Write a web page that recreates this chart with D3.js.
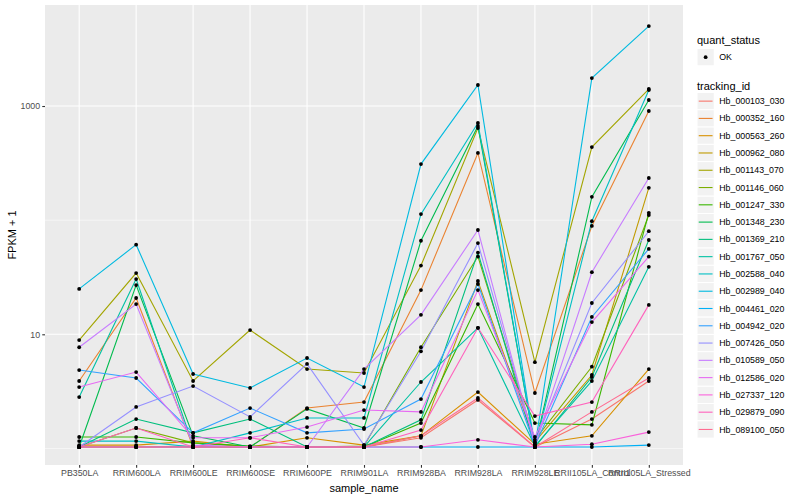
<!DOCTYPE html>
<html>
<head>
<meta charset="utf-8">
<script src="https://cdn.jsdelivr.net/npm/d3@7/dist/d3.min.js"></script>
<style>
body { margin: 0; background: #fff; }
svg text { font-family: "Liberation Sans", Arial, sans-serif; }
</style>
</head>
<body>
<svg id="chart" width="800" height="500"></svg>
<script>
// samples on the x axis
var samples = ["PB350LA", "RRIM600LA", "RRIM600LE", "RRIM600SE", "RRIM600PE", "RRIM901LA",
	"RRIM928BA", "RRIM928LA", "RRIM928LE", "RRII105LA_Control", "RRII105LA_Stressed"];

// FPKM + 1 per gene, one value per sample
var Hb_000103_030 = [1.03, 1.03, 1.05, 1.03, 1.03, 1.03, 1.24, 2.66, 1.03, 1.81, 3.90];
var Hb_000352_160 = [3.90, 20.8, 1.03, 1.03, 2.26, 2.55, 24.4, 388, 3.06, 89, 904];
var Hb_000563_260 = [1.07, 1.07, 1.16, 1.03, 1.24, 1.07, 1.29, 3.12, 1.09, 1.29, 4.96];
var Hb_000962_080 = [1.03, 1.03, 1.03, 1.03, 1.03, 1.03, 1.29, 29.3, 1.14, 4.40, 192];
var Hb_001143_070 = [8.9, 34.4, 3.90, 10.9, 4.96, 4.58, 40, 641, 5.7, 437, 1409];
var Hb_001146_060 = [1.03, 1.51, 1.12, 1.03, 1.03, 1.05, 7.7, 48, 1.19, 5.2, 111];
var Hb_001247_330 = [1.26, 1.26, 1.12, 1.05, 1.03, 1.03, 1.67, 18.4, 1.67, 1.61, 116];
var Hb_001348_230 = [1.03, 27, 1.29, 1.03, 2.22, 1.51, 66, 668, 1.03, 160, 1129];
var Hb_001369_210 = [1.03, 1.81, 1.37, 1.81, 1.03, 1.03, 1.78, 52, 1.03, 4.22, 67];
var Hb_001767_050 = [2.82, 30.5, 1.05, 1.03, 1.03, 1.03, 3.82, 11.4, 1.05, 3.90, 39];
var Hb_002588_040 = [1.16, 1.16, 1.03, 1.37, 1.85, 1.85, 113, 710, 1.03, 98, 1381];
var Hb_002989_040 = [25, 61, 4.49, 3.39, 6.2, 3.45, 310, 1528, 1.03, 1758, 5020];
var Hb_004461_020 = [1.03, 1.03, 1.03, 1.03, 1.03, 1.03, 1.03, 1.03, 1.03, 1.03, 1.07];
var Hb_004942_020 = [4.86, 4.14, 1.37, 2.26, 1.37, 1.48, 2.71, 27.6, 1.05, 14.2, 56];
var Hb_007426_050 = [1.03, 2.31, 3.52, 1.89, 5.5, 1.07, 7.1, 63, 1.12, 18.8, 80];
var Hb_010589_050 = [7.7, 18.4, 1.07, 1.03, 1.03, 4.96, 14.8, 82, 1.07, 35, 234];
var Hb_012586_020 = [3.45, 4.67, 1.24, 1.24, 1.54, 2.17, 2.09, 24.4, 1.26, 12.8, 48];
var Hb_027337_120 = [1.03, 1.03, 1.03, 1.03, 1.03, 1.03, 1.03, 1.19, 1.03, 1.09, 1.39];
var Hb_029879_090 = [1.03, 1.51, 1.03, 1.24, 1.03, 1.03, 1.45, 11.4, 1.92, 2.55, 18.1];
var Hb_089100_050 = [1.03, 1.03, 1.03, 1.03, 1.03, 1.03, 1.29, 2.77, 1.03, 2.09, 4.14];

var trackingIds = ["Hb_000103_030", "Hb_000352_160", "Hb_000563_260", "Hb_000962_080", "Hb_001143_070",
	"Hb_001146_060", "Hb_001247_330", "Hb_001348_230", "Hb_001369_210", "Hb_001767_050",
	"Hb_002588_040", "Hb_002989_040", "Hb_004461_020", "Hb_004942_020", "Hb_007426_050",
	"Hb_010589_050", "Hb_012586_020", "Hb_027337_120", "Hb_029879_090", "Hb_089100_050"];
var seriesValues = [Hb_000103_030, Hb_000352_160, Hb_000563_260, Hb_000962_080, Hb_001143_070,
	Hb_001146_060, Hb_001247_330, Hb_001348_230, Hb_001369_210, Hb_001767_050,
	Hb_002588_040, Hb_002989_040, Hb_004461_020, Hb_004942_020, Hb_007426_050,
	Hb_010589_050, Hb_012586_020, Hb_027337_120, Hb_029879_090, Hb_089100_050];

var quantStatus = ["OK"];
var yMajorTicks = [10, 1000];
var yMinorTicks = [1, 100, 10000];
// axis limits (log10) as in the reference panel
var yLimitsLog = [-0.145, 3.885];

// ggplot hue palette
var colors = ["#F8766D", "#EA8331", "#D89000", "#C09B00", "#A3A500", "#7CAE00", "#39B600", "#00BB4E",
	"#00BF7D", "#00C1A3", "#00BFC4", "#00BAE0", "#00B0F6", "#35A2FF", "#9590FF", "#C77CFF",
	"#E76BF3", "#FA62DB", "#FF62BC", "#FF6C91"];

var svg = d3.select("#chart");
var panel = {left: 45, right: 683, top: 5, bottom: 465};

var x = d3.scalePoint()
	.domain(samples)
	.range([panel.left, panel.right])
	.padding(0.6);

var y = d3.scaleLog()
	.domain([Math.pow(10, yLimitsLog[0]), Math.pow(10, yLimitsLog[1])])
	.range([panel.bottom, panel.top]);

var color = d3.scaleOrdinal().domain(trackingIds).range(colors);

// panel background + grid
svg.append("rect")
	.attr("x", panel.left).attr("y", panel.top)
	.attr("width", panel.right - panel.left)
	.attr("height", panel.bottom - panel.top)
	.style("fill", "#EBEBEB");

var grid = svg.append("g");
grid.selectAll(".minor")
	.data(yMinorTicks.filter(function(v) { return v >= y.domain()[0] && v <= y.domain()[1]; }))
	.enter().append("line")
	.attr("x1", panel.left).attr("x2", panel.right)
	.attr("y1", function(d) { return y(d); })
	.attr("y2", function(d) { return y(d); })
	.style("stroke", "#fff").style("stroke-width", 0.55);
grid.selectAll(".major")
	.data(yMajorTicks)
	.enter().append("line")
	.attr("x1", panel.left).attr("x2", panel.right)
	.attr("y1", function(d) { return y(d); })
	.attr("y2", function(d) { return y(d); })
	.style("stroke", "#fff").style("stroke-width", 1.1);
grid.selectAll(".vert")
	.data(samples)
	.enter().append("line")
	.attr("x1", function(d) { return x(d); })
	.attr("x2", function(d) { return x(d); })
	.attr("y1", panel.top).attr("y2", panel.bottom)
	.style("stroke", "#fff").style("stroke-width", 1.1);

// lines
var line = d3.line()
	.x(function(d, i) { return x(samples[i]); })
	.y(function(d) { return y(d); });

svg.append("g").selectAll("path")
	.data(seriesValues)
	.enter().append("path")
	.attr("d", line)
	.style("fill", "none")
	.style("stroke", function(d, i) { return color(trackingIds[i]); })
	.style("stroke-width", 1.1);

// points
var pts = svg.append("g");
seriesValues.forEach(function(vals) {
	pts.selectAll(null)
		.data(vals)
		.enter().append("circle")
		.attr("cx", function(d, i) { return x(samples[i]); })
		.attr("cy", function(d) { return y(d); })
		.attr("r", 1.9)
		.style("fill", "#000");
});

// axes
var yAxis = d3.axisLeft(y).tickValues(yMajorTicks).tickFormat(d3.format("d"))
	.tickSize(2.75).tickPadding(2.2);
var gy = svg.append("g").attr("transform", "translate(" + panel.left + ",0)").call(yAxis);

var xAxis = d3.axisBottom(x).tickSize(2.75).tickPadding(2.2);
var gx = svg.append("g").attr("transform", "translate(0," + panel.bottom + ")").call(xAxis);

[gx, gy].forEach(function(g) {
	g.select(".domain").remove();
	g.selectAll(".tick line").style("stroke", "#333333").style("stroke-width", 1.1);
	g.selectAll(".tick text").style("fill", "#4D4D4D").style("font-size", "8.8px")
		.style("font-family", "Liberation Sans, Arial, sans-serif");
});

svg.append("text")
	.attr("x", (panel.left + panel.right) / 2)
	.attr("y", 492)
	.attr("text-anchor", "middle")
	.style("font-size", "11px")
	.text("sample_name");

svg.append("text")
	.attr("transform", "translate(16," + (panel.top + panel.bottom) / 2 + ") rotate(-90)")
	.attr("text-anchor", "middle")
	.style("font-size", "11px")
	.text("FPKM + 1");

// legends
var lx = 697, key = 17.28;
var leg = svg.append("g");

leg.append("text").attr("x", lx).attr("y", 44).style("font-size", "11px").text("quant_status");
var qs = leg.selectAll(".qs").data(quantStatus).enter().append("g")
	.attr("transform", function(d, i) { return "translate(" + lx + "," + (48.5 + i * key) + ")"; });
qs.append("rect").attr("width", key).attr("height", key)
	.style("fill", "#F2F2F2").style("stroke", "#fff");
qs.append("circle").attr("cx", key / 2).attr("cy", key / 2).attr("r", 1.9).style("fill", "#000");
qs.append("text").attr("x", key + 5).attr("y", key / 2).attr("dy", "0.35em")
	.style("font-size", "8.8px").text(function(d) { return d; });

leg.append("text").attr("x", lx).attr("y", 90).style("font-size", "11px").text("tracking_id");
var ti = leg.selectAll(".ti").data(trackingIds).enter().append("g")
	.attr("transform", function(d, i) { return "translate(" + lx + "," + (92.5 + i * key) + ")"; });
ti.append("rect").attr("width", key).attr("height", key)
	.style("fill", "#F2F2F2").style("stroke", "#fff");
ti.append("line")
	.attr("x1", key * 0.1).attr("x2", key * 0.9)
	.attr("y1", key / 2).attr("y2", key / 2)
	.style("stroke", function(d) { return color(d); })
	.style("stroke-width", 1.1);
ti.append("text").attr("x", key + 5).attr("y", key / 2).attr("dy", "0.35em")
	.style("font-size", "8.8px").text(function(d) { return d; });
</script>
</body>
</html>
